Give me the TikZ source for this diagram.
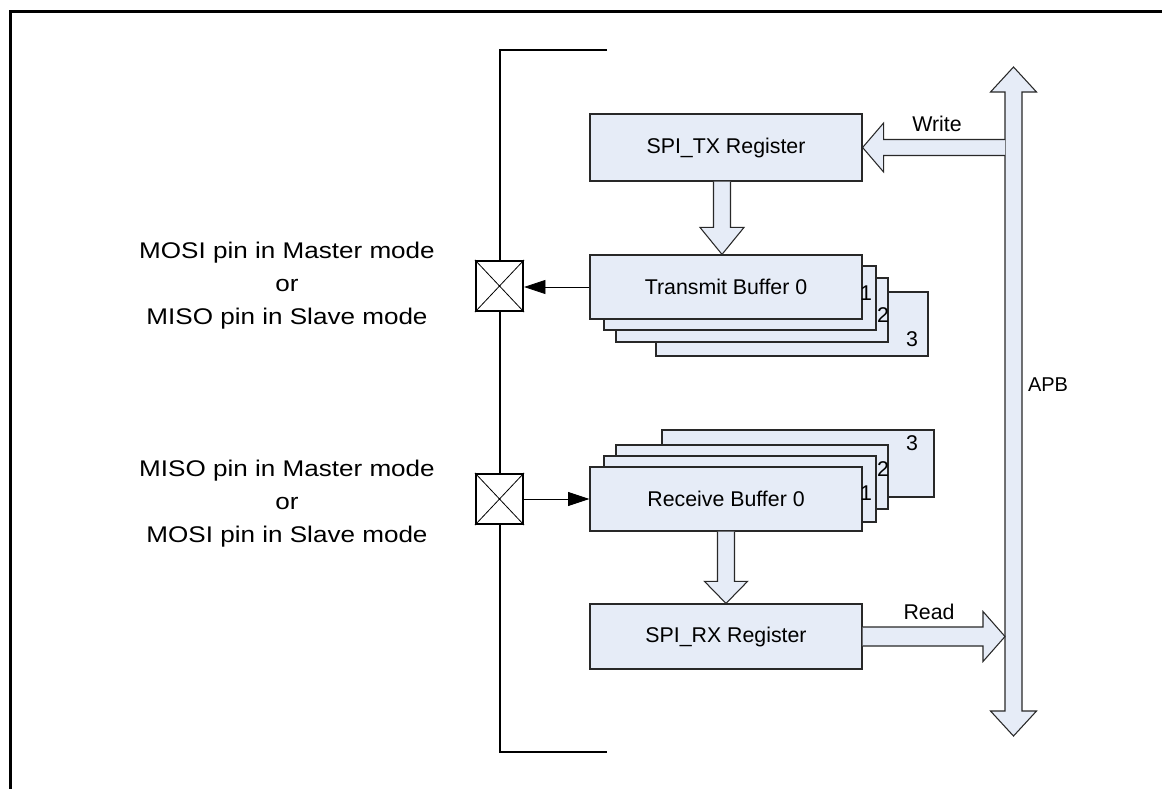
\documentclass[tikz,border=0pt]{standalone}
\usepackage{fontspec}
\setmainfont{Liberation Sans}
\newfontfamily\pinfont[FakeStretch=1.15]{Liberation Sans}
\usetikzlibrary{fit,calc,arrows.meta}
\definecolor{boxfill}{RGB}{230,236,247}
\definecolor{edge}{RGB}{40,40,40}
\begin{document}
\begin{tikzpicture}[x=0.75pt,y=-0.75pt,
  box/.style={draw=edge, fill=boxfill, line width=0.9pt, inner sep=0pt},
  lbl/.style={font=\fontsize{16}{18}\selectfont, inner sep=0pt},
  pinlbl/.style={font=\pinfont\fontsize{17}{24.75}\selectfont, align=center, inner sep=0pt},
  pinbox/.style={draw=black, line width=1.6pt, fill=white, minimum width=35.25pt, minimum height=37.5pt, inner sep=0pt},
  blk/.style={draw=edge, fill=boxfill, line width=0.8pt, line join=miter},
  frame/.style={line width=2.25pt},
  bracket/.style={line width=1.5pt},
  sig/.style={line width=0.6pt, -{Triangle[length=16pt,width=10.5pt]}}]
\useasboundingbox (0,0) rectangle (1162,789);

% outer frame
\draw[frame] (1162,11) -- (10,11) -- (10,789);

% bracket
\draw[bracket] (607,50) -- (500,50) -- (500,752) -- (607,752);

% pins
\node[pinbox] (pintx) at (499.5,286) {};
\draw[line width=0.6pt] (pintx.north west) -- (pintx.south east) (pintx.north east) -- (pintx.south west);
\node[pinbox] (pinrx) at (499.5,499) {};
\draw[line width=0.6pt] (pinrx.north west) -- (pinrx.south east) (pinrx.north east) -- (pinrx.south west);

\node[pinlbl] (txlbl) at (287,286) {MOSI pin in Master mode\\or\\MISO pin in Slave mode};
\node[pinlbl] (rxlbl) at (287,504) {MISO pin in Master mode\\or\\MOSI pin in Slave mode};

% SPI_TX register
\node[box, fit={(590,114)(862,181)}] (txreg) {};
\node[lbl] at (txreg.center) {SPI\_TX Register};

% transmit buffers
\node[box, fit={(656,292)(928,356)}] (tb3) {};
\node[box, fit={(616,278)(888,342)}] (tb2) {};
\node[box, fit={(604,266)(876,330)}] (tb1) {};
\node[box, fit={(590,255)(862,319)}] (tb0) {};
\node[lbl] at (tb0.center) {Transmit Buffer 0};
\node[lbl] at (866,293) {1};
\node[lbl] at (883,315) {2};
\node[lbl] at (912,339) {3};

% receive buffers
\node[box, fit={(662,430)(934,497)}] (rb3) {};
\node[box, fit={(616,445)(888,509)}] (rb2) {};
\node[box, fit={(604,456)(876,522)}] (rb1) {};
\node[box, fit={(590,467)(862,531)}] (rb0) {};
\node[lbl] at (rb0.center) {Receive Buffer 0};
\node[lbl] at (912,443) {3};
\node[lbl] at (883,469) {2};
\node[lbl] at (866,493) {1};

% SPI_RX register
\node[box, fit={(590,604)(862,669)}] (rxreg) {};
\node[lbl] at (rxreg.center) {SPI\_RX Register};

% block arrow TX reg -> buffer
\coordinate (t1s) at ($(txreg.south)+(-4,0)$);
\coordinate (t1e) at (t1s |- tb0.north);
\draw[blk] ($(t1s)+(-8.5,0)$) -- ($(t1e)+(-8.5,-27)$) -- ($(t1e)+(-22,-27)$) -- (t1e)
  -- ($(t1e)+(22,-27)$) -- ($(t1e)+(8.5,-27)$) -- ($(t1s)+(8.5,0)$);

% block arrow RX buffer -> RX reg
\coordinate (r1s) at (rb0.south);
\coordinate (r1e) at (rxreg.north);
\draw[blk] ($(r1s)+(-8.5,0)$) -- ($(r1e)+(-8.5,-22)$) -- ($(r1e)+(-21.5,-22)$) -- (r1e)
  -- ($(r1e)+(21.5,-22)$) -- ($(r1e)+(8.5,-22)$) -- ($(r1s)+(8.5,0)$);

% APB bus
\coordinate (apbtop) at (1013.5,67);
\coordinate (apbbot) at (1013.5,736);
\draw[blk] (apbtop) -- ($(apbtop)+(23,25)$) -- ($(apbtop)+(8.5,25)$) -- ($(apbbot)+(8.5,-25)$)
  -- ($(apbbot)+(23,-25)$) -- (apbbot) -- ($(apbbot)+(-23,-25)$) -- ($(apbbot)+(-8.5,-25)$)
  -- ($(apbtop)+(-8.5,25)$) -- ($(apbtop)+(-23,25)$) -- cycle;
\node[lbl, font=\fontsize{15}{18}\selectfont] (apblbl) at (1048,385) {APB};

% Write arrow APB -> SPI_TX
\coordinate (wS) at ($(apbtop |- txreg.east)+(-8.5,0)$);
\draw[blk] ($(wS)+(0,-8)$) -- ($(txreg.east)+(21,-8)$) -- ($(txreg.east)+(21,-24.5)$) -- (txreg.east)
  -- ($(txreg.east)+(21,24.5)$) -- ($(txreg.east)+(21,8)$) -- ($(wS)+(0,8)$);
\node[lbl] (wlbl) at (937,124) {Write};

% Read arrow SPI_RX -> APB
\coordinate (rT) at ($(apbtop |- rxreg.east)+(-8.5,0)$);
\draw[blk] ($(rxreg.east)+(0,-9.5)$) -- ($(rT)+(-22,-9.5)$) -- ($(rT)+(-22,-25)$) -- (rT)
  -- ($(rT)+(-22,25)$) -- ($(rT)+(-22,9.5)$) -- ($(rxreg.east)+(0,9.5)$);
\node[lbl] (rlbl) at (929,612) {Read};

% pin signals
\draw[sig] (tb0.west) -- (tb0.west -| pintx.east);
\draw[sig] (pinrx.east) -- (pinrx.east -| rb0.west);
\end{tikzpicture}
\end{document}
